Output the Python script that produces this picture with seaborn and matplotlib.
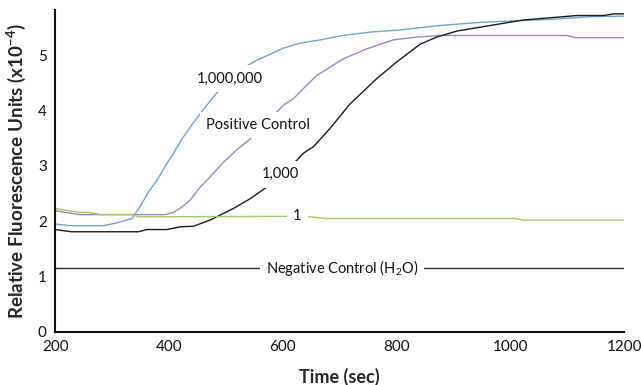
import numpy as np
import pandas as pd
import matplotlib
matplotlib.use("Agg")
import matplotlib.pyplot as plt
import seaborn as sns

sns.set_theme(style="white", context="paper")
plt.rcParams['font.family'] = ['Lato', 'DejaVu Sans']
plt.rcParams['mathtext.fontset'] = 'custom'
plt.rcParams['mathtext.rm'] = 'Lato'
plt.rcParams['mathtext.bf'] = 'Lato:bold'

# 1,000,000 copies
t_high = [200, 226, 285, 308, 335, 349, 364, 379, 396, 408, 423, 440, 455, 469, 484,
          504, 528, 554, 601, 630, 666, 706, 753, 806, 876, 952, 1070, 1140, 1200]
y_high = [1.95, 1.92, 1.92, 1.97, 2.05, 2.26, 2.53, 2.74, 3.04, 3.23, 3.49, 3.74, 3.95, 4.13, 4.32,
          4.55, 4.76, 4.91, 5.13, 5.22, 5.28, 5.36, 5.42, 5.46, 5.54, 5.60, 5.65, 5.70, 5.71]

# Positive control
t_pos = [200, 244, 393, 408, 423, 437, 455, 472, 496, 519, 543, 566, 590, 601, 619, 642,
         660, 707, 748, 794, 835, 876, 1099, 1114, 1200]
y_pos = [2.19, 2.12, 2.12, 2.16, 2.26, 2.38, 2.62, 2.80, 3.07, 3.29, 3.49, 3.74, 3.98, 4.10, 4.22, 4.46,
         4.64, 4.94, 5.12, 5.28, 5.33, 5.36, 5.36, 5.32, 5.32]

# 1,000 copies
t_mid = [200, 229, 346, 361, 396, 420, 443, 472, 513, 543, 572, 595, 619, 636, 654, 683,
         718, 765, 800, 841, 870, 906, 947, 982, 1023, 1070, 1117, 1163, 1181, 1200]
y_mid = [1.85, 1.81, 1.81, 1.85, 1.85, 1.90, 1.91, 2.02, 2.23, 2.41, 2.62, 2.83, 3.04, 3.23, 3.35, 3.68,
         4.12, 4.58, 4.88, 5.20, 5.33, 5.44, 5.51, 5.57, 5.64, 5.68, 5.72, 5.72, 5.75, 5.75]

# 1 copy
t_low = [200, 244, 259, 279, 335, 346, 639, 677, 1008, 1023, 1200]
y_low = [2.23, 2.16, 2.16, 2.12, 2.12, 2.08, 2.09, 2.05, 2.05, 2.02, 2.02]

# Negative control (H2O)
t_neg = [200, 1200]
y_neg = [1.15, 1.15]

series = [
    ("1,000,000", t_high, y_high, "#6fa3d8"),
    ("Positive Control", t_pos, y_pos, "#9d85c4"),
    ("1,000", t_mid, y_mid, "#1a1a1a"),
    ("1", t_low, y_low, "#9fcc5c"),
    ("Negative Control (H$_2$O)", t_neg, y_neg, "#2a2a2a"),
]

# label positions (time, rfu)
label_pos = {
    "1,000,000": (506, 4.58),
    "Positive Control": (557, 3.74),
    "1,000": (596, 2.85),
    "1": (625, 2.10),
    "Negative Control (H$_2$O)": (704, 1.15),
}

fig, ax = plt.subplots(figsize=(6.41, 3.85), dpi=100)
fig.subplots_adjust(left=0.086, right=0.974, bottom=0.138, top=0.974)

for name, t, y, c in series:
    df = pd.DataFrame({"Time": t, "RFU": y})
    sns.lineplot(data=df, x="Time", y="RFU", color=c, linewidth=1.0, ax=ax, zorder=2)
    lx, ly = label_pos[name]
    ax.text(lx, ly, name, ha="center", va="center", fontsize=10.5, color="#111111", zorder=5,
            bbox=dict(facecolor="white", edgecolor="none", pad=4.5))

ax.set_xlim(200, 1200)
ax.set_ylim(0, 5.82)
ax.set_xticks([200, 400, 600, 800, 1000, 1200])
ax.set_yticks([0, 1, 2, 3, 4, 5])
ax.tick_params(direction="in", length=5, width=1.2, labelsize=11, colors="#111111", pad=6)
ax.set_xlabel("Time (sec)", fontsize=13, fontweight="bold", labelpad=10)
ax.set_ylabel(r"Relative Fluorescence Units (x10$^{\mathregular{-4}}$)", fontsize=13.5,
              fontweight="bold", labelpad=7)
sns.despine(ax=ax)
for s in ["left", "bottom"]:
    ax.spines[s].set_linewidth(1.5)
    ax.spines[s].set_color("#111111")

fig.savefig("out.png", dpi=100)
